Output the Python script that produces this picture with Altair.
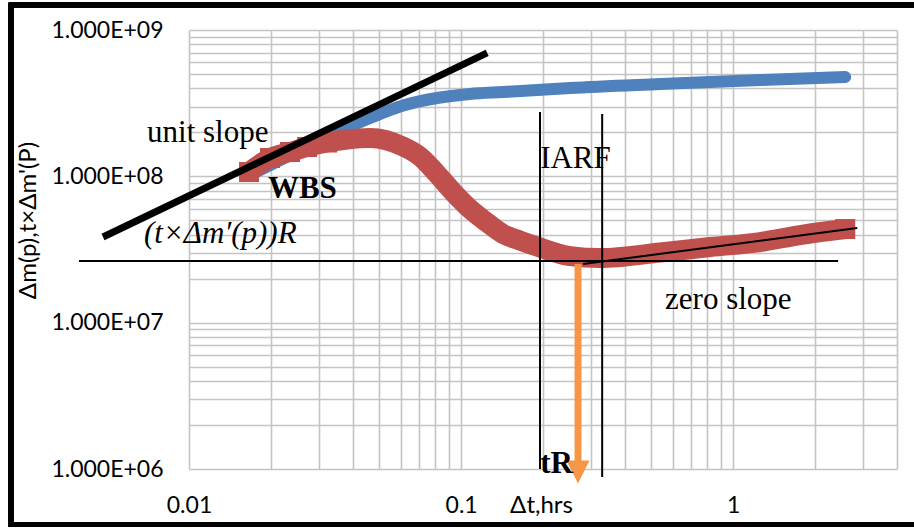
import altair as alt
import pandas as pd

# ---- data ----
# Δm(p) (blue)
dm_t = [0.01676, 0.02161, 0.02786, 0.03591, 0.04628, 0.06119, 0.08161, 0.1079,
        0.1427, 0.1903, 0.2516, 0.539, 1.257, 2.581]
dm_v = [1.021e8, 1.292e8, 1.637e8, 2.040e8, 2.503e8, 3.047e8, 3.429e8, 3.651e8,
        3.768e8, 3.889e8, 4.013e8, 4.274e8, 4.551e8, 4.772e8]

# t×Δm'(p) (red)
der_t = [0.01662, 0.01985, 0.02351, 0.02716, 0.03217, 0.0381, 0.04628, 0.06119,
         0.07067, 0.08161, 0.09346, 0.1079, 0.1246, 0.1427, 0.1647, 0.1903,
         0.2516, 0.3243, 0.539, 0.8232, 1.257, 1.763, 2.581]
der_v = [1.070e8, 1.334e8, 1.466e8, 1.586e8, 1.702e8, 1.784e8, 1.827e8, 1.598e8,
         1.366e8, 1.037e8, 7.81e7, 5.977e7, 4.833e7, 4.033e7, 3.641e7, 3.313e7,
         2.852e7, 2.764e7, 3.015e7, 3.286e7, 3.556e7, 3.971e7, 4.363e7]

# annotation lines
unit_t = [0.00483, 0.1247]
unit_v = [3.85e7, 6.97e8]
zero_t = [0.00394, 2.43]
zero_v = [2.64e7, 2.64e7]
trend_t = [0.281, 2.857]
trend_v = [2.52e7, 4.43e7]
iarf_t = [0.195, 0.330]
iarf_top = [2.75e8, 2.67e8]
iarf_bottom = [1.0e6, 8.8e5]
arrow_t = [0.269]
arrow_top = [2.52e7]
arrow_bottom = [1.11e6]
arrow_head = [9.53e5]

# annotation texts
notes_plain = ["unit slope", "IARF", "zero slope"]
notes_plain_t = [0.00701, 0.1952, 0.562]
notes_plain_v = [1.714e8, 1.14e8, 1.24e7]
notes_bold = ["WBS", "tR"]
notes_bold_t = [0.0195, 0.1952]
notes_bold_v = [7.11e7, 9.38e5]
notes_ital = ["(t×Δm′(p))R"]
notes_ital_t = [0.00683]
notes_ital_v = [3.50e7]

# axes
x_ticks = [0.01, 0.02, 0.03, 0.04, 0.05, 0.06, 0.07, 0.08, 0.09,
           0.1, 0.2, 0.3, 0.4, 0.5, 0.6, 0.7, 0.8, 0.9, 1, 2, 3, 4]
x_label_vals = [0.01, 0.1, 1]
x_tick_labels = ["0.01", "0.1", "1"]
y_ticks = [1e6, 2e6, 3e6, 4e6, 5e6, 6e6, 7e6, 8e6, 9e6,
           1e7, 2e7, 3e7, 4e7, 5e7, 6e7, 7e7, 8e7, 9e7,
           1e8, 2e8, 3e8, 4e8, 5e8, 6e8, 7e8, 8e8, 9e8, 1e9]
y_label_vals = [1e6, 1e7, 1e8, 1e9]
y_tick_labels = ["1.000E+06", "1.000E+07", "1.000E+08", "1.000E+09"]

BLUE = "#4F81BD"
RED = "#C0504D"
ORANGE = "#F79646"
SANS = "Lato"
SERIF = "Liberation Serif"


def label_expr(vals, labels):
    expr = "''"
    for v, l in zip(reversed(vals), reversed(labels)):
        expr = f"datum.value == {v!r} ? '{l}' : ({expr})"
    return expr


xscale = alt.Scale(type="log", domain=[0.01, 4], nice=False)
yscale = alt.Scale(type="log", domain=[1e6, 1e9], nice=False)

xaxis = alt.Axis(values=x_ticks, labelExpr=label_expr(x_label_vals, x_tick_labels),
                 grid=True, ticks=False, domain=False, gridColor="#C4C4C4", gridWidth=1.6,
                 gridOpacity=1, labelFont=SANS, labelFontSize=23, labelColor="black",
                 labelBaseline="middle", labelPadding=36, labelOverlap=False,
                 labelFlush=False, labelBound=False,
                 title="Δt,hrs", titleFont=SANS, titleFontSize=24, titleFontWeight="normal",
                 titleColor="black", titleBaseline="middle", titleY=36, titleX=352,
                 titleAlign="center")
yaxis = alt.Axis(values=y_ticks, labelExpr=label_expr(y_label_vals, y_tick_labels),
                 grid=True, ticks=False, domain=False, gridColor="#C4C4C4", gridWidth=1.6,
                 gridOpacity=1, labelFont=SANS, labelFontSize=23, labelColor="black",
                 labelPadding=26, labelOverlap=False, labelFlush=False, labelBound=False,
                 title="Δm(p),t×Δm'(P)", titleFont=SANS, titleFontSize=24,
                 titleFontWeight="normal", titleColor="black", titleAngle=270,
                 titleAlign="center", titleBaseline="middle", titleX=-161, titleY=190)

dm = pd.DataFrame({"t": dm_t, "v": dm_v})
der = pd.DataFrame({"t": der_t, "v": der_v})
der_sq = der.iloc[[0, 1, 2, 3, 4, len(der) - 1]]

X = lambda: alt.X("t:Q", scale=xscale)
Y = lambda f="v": alt.Y(f"{f}:Q", scale=yscale)

blue = alt.Chart(dm).mark_line(color=BLUE, strokeWidth=12, strokeCap="round",
                               interpolate="monotone").encode(
    x=alt.X("t:Q", scale=xscale, axis=xaxis),
    y=alt.Y("v:Q", scale=yscale, axis=yaxis),
)
red = alt.Chart(der).mark_line(color=RED, strokeWidth=20, strokeCap="butt",
                               interpolate="monotone").encode(x=X(), y=Y())
red_sq = alt.Chart(der_sq).mark_point(shape="square", filled=True, color=RED, size=400,
                                      opacity=1).encode(x=X(), y=Y())

zero = alt.Chart(pd.DataFrame({"t": zero_t, "v": zero_v})).mark_line(
    color="black", strokeWidth=2).encode(x=X(), y=Y())
trend = alt.Chart(pd.DataFrame({"t": trend_t, "v": trend_v})).mark_line(
    color="black", strokeWidth=2).encode(x=X(), y=Y())
iarf = alt.Chart(pd.DataFrame({"t": iarf_t, "top": iarf_top, "bot": iarf_bottom})).mark_rule(
    color="black", strokeWidth=2).encode(x=X(), y=Y("top"), y2="bot:Q")
unit = alt.Chart(pd.DataFrame({"t": unit_t, "v": unit_v})).mark_line(
    color="black", strokeWidth=7).encode(x=X(), y=Y())

arrow_df = pd.DataFrame({"t": arrow_t, "top": arrow_top, "bot": arrow_bottom, "head": arrow_head})
shaft = alt.Chart(arrow_df).mark_rule(color=ORANGE, strokeWidth=7).encode(
    x=X(), y=Y("top"), y2="bot:Q")
head = alt.Chart(arrow_df).mark_point(shape="M-1,-1L1,-1L0,1Z", filled=True, color=ORANGE,
                                      size=529, opacity=1).encode(x=X(), y=Y("head"))

t_plain = alt.Chart(pd.DataFrame({"t": notes_plain_t, "v": notes_plain_v, "s": notes_plain})).mark_text(
    font=SERIF, fontSize=31, align="left", baseline="alphabetic", color="black").encode(
    x=X(), y=Y(), text="s:N")
t_bold = alt.Chart(pd.DataFrame({"t": notes_bold_t, "v": notes_bold_v, "s": notes_bold})).mark_text(
    font=SERIF, fontSize=31, fontWeight="bold", align="left", baseline="alphabetic",
    color="black").encode(x=X(), y=Y(), text="s:N")
t_ital = alt.Chart(pd.DataFrame({"t": notes_ital_t, "v": notes_ital_v, "s": notes_ital})).mark_text(
    font=SERIF, fontSize=31, fontStyle="italic", align="left", baseline="alphabetic",
    color="black").encode(x=X(), y=Y(), text="s:N")

frame = alt.Chart(dm).mark_rect(filled=False, stroke="black", strokeWidth=4.5).encode(
    x=alt.value(-178), x2=alt.value(730), y=alt.value(-25), y2=alt.value(494.5))

chart = alt.layer(
    blue, red, red_sq, zero, trend, iarf, unit, shaft, head,
    t_plain, t_bold, t_ital, frame
).properties(
    width=708, height=439,
    autosize=alt.AutoSizeParams(type="none"),
    padding={"left": 189, "top": 30, "right": 17, "bottom": 60},
    background="white",
).configure_view(stroke=None)

chart.save("out.html", embed_options={"renderer": "svg", "actions": False})
